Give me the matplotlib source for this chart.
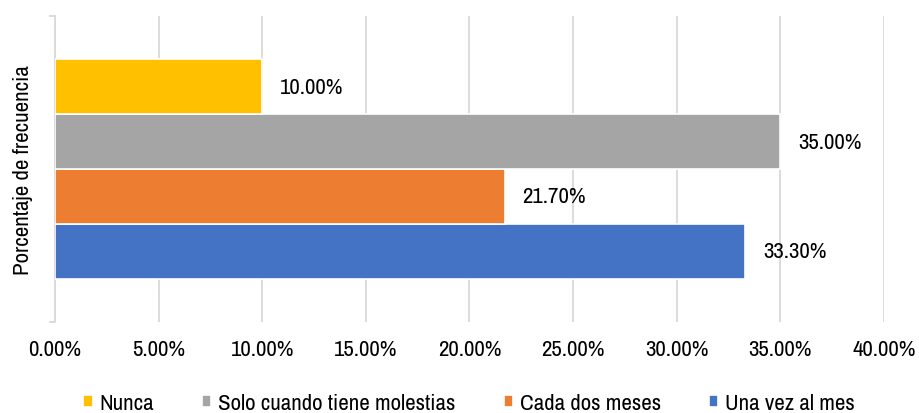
import matplotlib.pyplot as plt
from matplotlib.ticker import FuncFormatter, MultipleLocator

# datos del gráfico (de abajo hacia arriba)
series = ["Una vez al mes", "Cada dos meses", "Solo cuando tiene molestias", "Nunca"]
valores = [33.30, 21.70, 35.00, 10.00]
colores = ["#4472C4", "#ED7D31", "#A5A5A5", "#FFC000"]
eje_y = "Porcentaje de frecuencia"

plt.rcParams["font.family"] = ["Archivo Narrow", "Liberation Sans", "DejaVu Sans"]
tam = 16.5

fig = plt.figure(figsize=(9.2, 4.14), dpi=100)
ax = fig.add_axes([55 / 920, 1 - 323 / 414, (884 - 55) / 920, 306 / 414])

alto = 0.179
y0 = -1.5 * alto
for i, (nombre, v, c) in enumerate(zip(series, valores, colores)):
    ax.barh(y0 + i * alto, v, height=alto, color=c, edgecolor="white",
            linewidth=1.2, label=nombre, zorder=3)
    ax.text(v + 0.85, y0 + i * alto, f"{v:.2f}%", va="center", ha="left",
            fontsize=tam, color="#000000", zorder=4)

ax.set_xlim(0, 40)
ax.set_ylim(-0.5, 0.5)
ax.xaxis.set_major_locator(MultipleLocator(5))
ax.xaxis.set_major_formatter(FuncFormatter(lambda x, p: f"{x:.2f}%"))
ax.grid(axis="x", color="#D9D9D9", linewidth=1.3, zorder=0)
ax.tick_params(axis="x", length=0, pad=12, labelsize=tam, colors="#000000")

ax.set_yticks([-0.5, 0.5])
ax.set_yticklabels([])
ax.tick_params(axis="y", length=4, width=1.3, color="#D9D9D9", direction="out")
for lado in ["top", "right", "bottom"]:
    ax.spines[lado].set_visible(False)
ax.spines["left"].set_color("#D9D9D9")
ax.spines["left"].set_linewidth(1.3)
ax.set_ylabel(eje_y, fontsize=tam, labelpad=8)

h, l = ax.get_legend_handles_labels()
orden = [3, 2, 1, 0]
fig.legend([h[i] for i in orden], [l[i] for i in orden], loc="center",
           bbox_to_anchor=(0.51, 1 - 404 / 414), ncol=4, frameon=False,
           fontsize=tam, handlelength=0.4, handleheight=0.4, handletextpad=0.3,
           columnspacing=2.1)

fig.savefig("out.png", dpi=100)
